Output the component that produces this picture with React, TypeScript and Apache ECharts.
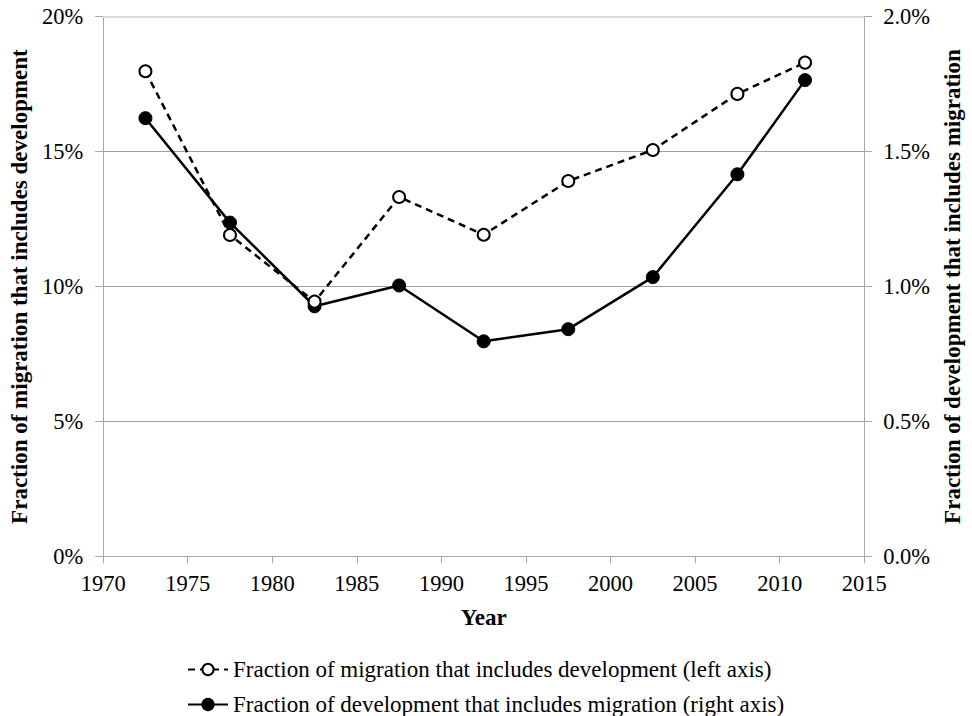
import React, { useEffect, useRef } from "react";
import * as echarts from "echarts";

const years = [1972.5, 1977.5, 1982.5, 1987.5, 1992.5, 1997.5, 2002.5, 2007.5, 2011.5];
const migrationIncludesDev = [17.98, 11.91, 9.44, 13.32, 11.92, 13.91, 15.06, 17.14, 18.3];
const devIncludesMigration = [1.624, 1.237, 0.927, 1.004, 0.797, 0.842, 1.035, 1.416, 1.765];
const seriesNames = [
  "Fraction of migration that includes development (left axis)",
  "Fraction of development that includes migration (right axis)",
];
const leftAxisTitle = "Fraction of migration that includes development";
const rightAxisTitle = "Fraction of development that includes migration";
const xAxisTitle = "Year";

const FONT = "'Liberation Serif', 'Times New Roman', serif";

export default function App() {
  const ref = useRef<HTMLDivElement>(null);
  useEffect(() => {
    if (!ref.current) return;
    const chart = echarts.init(ref.current, null, { renderer: "svg" });
    const gray = "#a6a6a6";
    const legendBase = {
      orient: "horizontal",
      left: 182,
      itemWidth: 40,
      itemHeight: 14,
      itemGap: 0,
      textStyle: { fontFamily: FONT, fontSize: 23, color: "#000" },
    };
    chart.setOption({
      animation: false,
      backgroundColor: "#ffffff",
      textStyle: { fontFamily: FONT, color: "#000" },
      grid: { left: 100, right: 102.7, top: 16.7, bottom: 159.6 },
      legend: [
        { ...legendBase, top: 653, data: [seriesNames[0]] },
        { ...legendBase, top: 688, data: [seriesNames[1]] },
      ],
      xAxis: {
        type: "value",
        min: 1970,
        max: 2015,
        interval: 5,
        name: xAxisTitle,
        nameLocation: "middle",
        nameGap: 50,
        nameTextStyle: { fontFamily: FONT, fontSize: 23, fontWeight: "bold", color: "#000" },
        axisLine: { lineStyle: { color: gray, width: 1 } },
        axisTick: { show: true, inside: false, length: 7, lineStyle: { color: gray } },
        axisLabel: { fontFamily: FONT, fontSize: 22.5, color: "#000", margin: 16, formatter: (v: number) => String(v) },
        splitLine: { show: false },
      },
      yAxis: [
        {
          type: "value",
          min: 0,
          max: 20,
          interval: 5,
          position: "left",
          name: leftAxisTitle,
          nameLocation: "middle",
          nameRotate: 90,
          nameGap: 71,
          nameTextStyle: { fontFamily: FONT, fontSize: 23, fontWeight: "bold", color: "#000" },
          axisLine: { show: true, lineStyle: { color: gray } },
          axisTick: { show: true, length: 8, lineStyle: { color: gray } },
          axisLabel: { fontFamily: FONT, fontSize: 22.5, color: "#000", margin: 20, formatter: (v: number) => v + "%" },
          splitLine: { show: true, lineStyle: { color: "#a0a0a0", width: 1 } },
        },
        {
          type: "value",
          min: 0,
          max: 2,
          interval: 0.5,
          position: "right",
          name: rightAxisTitle,
          nameLocation: "middle",
          nameRotate: 90,
          nameGap: 76,
          nameTextStyle: { fontFamily: FONT, fontSize: 23, fontWeight: "bold", color: "#000" },
          axisLine: { show: true, lineStyle: { color: gray } },
          axisTick: { show: true, length: 8, lineStyle: { color: gray } },
          axisLabel: { fontFamily: FONT, fontSize: 22.5, color: "#000", margin: 19, formatter: (v: number) => v.toFixed(1) + "%" },
          splitLine: { show: false },
        },
      ],
      series: [
        {
          name: seriesNames[1],
          type: "line",
          yAxisIndex: 1,
          data: years.map((y, i) => [y, devIncludesMigration[i]]),
          symbol: "circle",
          symbolSize: 13,
          lineStyle: { color: "#000", width: 2.5, type: "solid" },
          itemStyle: { color: "#000", borderColor: "#000", borderWidth: 1 },
          z: 3,
        },
        {
          name: seriesNames[0],
          type: "line",
          yAxisIndex: 0,
          data: years.map((y, i) => [y, migrationIncludesDev[i]]),
          symbol: "circle",
          symbolSize: 12,
          lineStyle: { color: "#000", width: 2.5, type: [7, 5] },
          itemStyle: { color: "#fff", borderColor: "#000", borderWidth: 2 },
          markLine: {
            silent: true,
            symbol: "none",
            label: { show: false },
            lineStyle: { color: "#d9d9d9", width: 2, type: "solid" },
            data: [{ yAxis: 20 }],
          },
          z: 4,
        },
      ],
    });
    return () => chart.dispose();
  }, []);
  return <div ref={ref} style={{ width: 972, height: 716, position: "absolute", left: 0, top: 0 }} />;
}
